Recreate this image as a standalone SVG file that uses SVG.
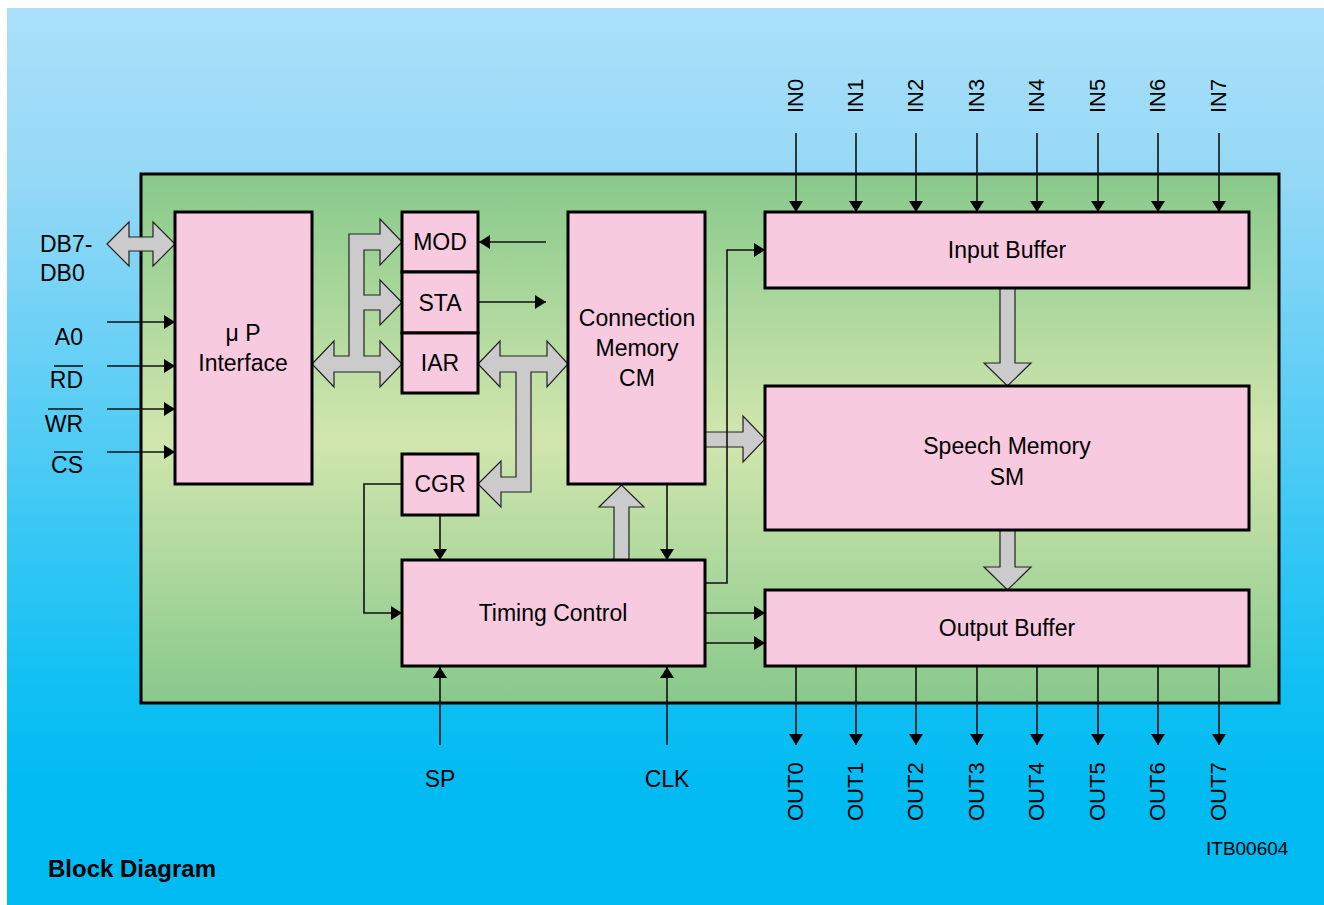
<svg xmlns="http://www.w3.org/2000/svg" width="1324" height="905" viewBox="0 0 1324 905">
<defs>
<linearGradient id="bg" x1="0" y1="0" x2="0" y2="1">
<stop offset="0" stop-color="#abe0fa"/>
<stop offset="0.2" stop-color="#93d8f6"/>
<stop offset="0.75" stop-color="#12c0f3"/>
<stop offset="0.88" stop-color="#00baf2"/>
<stop offset="1" stop-color="#00baf2"/>
</linearGradient>
<linearGradient id="gr" x1="0" y1="0" x2="0" y2="1">
<stop offset="0" stop-color="#88c98b"/>
<stop offset="0.5" stop-color="#d1e6ae"/>
<stop offset="1" stop-color="#88c98b"/>
</linearGradient>
<marker id="ah" viewBox="0 0 11 14" refX="11" refY="7" markerWidth="11" markerHeight="14" orient="auto" markerUnits="userSpaceOnUse">
<path d="M0,0 L11,7 L0,14 z" fill="#000"/>
</marker>
<style>
.box{fill:#f7cadf;stroke:#000;stroke-width:3}
.bus{fill:#cbcbcb;stroke:#222;stroke-width:1.2}
.ln{fill:none;stroke:#111;stroke-width:1.6}
.ar{fill:none;stroke:#111;stroke-width:1.6;marker-end:url(#ah)}
.t{font-family:"Liberation Sans",Arial,sans-serif;font-size:23px;fill:#000}
.c{text-anchor:middle}
.r{text-anchor:end}
.pin{font-family:"Liberation Sans",Arial,sans-serif;font-size:22px;fill:#000}
</style>
</defs>
<rect x="0" y="0" width="1324" height="905" fill="#fff"/>
<rect x="7" y="8" width="1317" height="897" fill="url(#bg)"/>
<rect x="141" y="174" width="1138" height="529" fill="url(#gr)" stroke="#000" stroke-width="3"/>

<g id="connectors">
<!-- DB bus -->
<path class="bus" d="M107,244 L129,222 L129,237 L153,237 L153,222 L175,244 L153,266 L153,251 L129,251 L129,266 z"/>
<!-- uP to MOD/STA/IAR bus -->
<path class="bus" d="M312,364 L334,341 L334,356 L349,356 L349,234 L380,234 L380,219 L402,242 L380,265 L380,250 L364,250 L364,295 L380,295 L380,280 L402,302.5 L380,325 L380,310 L364,310 L364,356 L380,356 L380,341 L402,364 L380,387 L380,372 L334,372 L334,387 z"/>
<!-- IAR to CM and CGR bus -->
<path class="bus" d="M478,364 L500,341 L500,356 L547,356 L547,341 L568,364 L547,387 L547,372 L531,372 L531,492 L501,492 L501,507 L478,484 L501,461 L501,477 L516,477 L516,372 L500,372 L500,387 z"/>
<!-- Timing to CM -->
<path class="bus" d="M614,560 L614,507 L599,507 L621.5,485 L644,507 L629,507 L629,560 z"/>
<!-- CM to Speech Memory -->
<path class="bus" d="M705,432 L743,432 L743,416 L765,439 L743,462 L743,447 L705,447 z"/>
<!-- Input Buffer to Speech Memory -->
<path class="bus" d="M1000,288 L1000,363 L984,363 L1007.5,386 L1031,363 L1015,363 L1015,288 z"/>
<!-- Speech Memory to Output Buffer -->
<path class="bus" d="M1000,530 L1000,567 L984,567 L1007.5,590 L1031,567 L1015,567 L1015,530 z"/>

<!-- uP inputs -->
<line class="ar" x1="107" y1="322" x2="175" y2="322"/>
<line class="ar" x1="107" y1="366" x2="175" y2="366"/>
<line class="ar" x1="107" y1="409" x2="175" y2="409"/>
<line class="ar" x1="107" y1="452" x2="175" y2="452"/>
<!-- MOD / STA -->
<line class="ar" x1="546" y1="242" x2="479" y2="242"/>
<line class="ar" x1="479" y1="302" x2="546" y2="302"/>
<!-- CGR -->
<line class="ar" x1="440" y1="516" x2="440" y2="560"/>
<polyline class="ar" points="402,484 364,484 364,613 402,613"/>
<!-- CM to timing -->
<line class="ar" x1="667" y1="485" x2="667" y2="560"/>
<!-- timing to input buffer -->
<polyline class="ar" points="705,583 727,583 727,250 765,250"/>
<!-- timing to output buffer -->
<line class="ar" x1="705" y1="613" x2="765" y2="613"/>
<line class="ar" x1="705" y1="643" x2="765" y2="643"/>
<!-- SP / CLK -->
<line class="ar" x1="440" y1="745" x2="440" y2="667"/>
<line class="ar" x1="667" y1="745" x2="667" y2="667"/>
<!-- IN lines -->
<line class="ar" x1="796" y1="133" x2="796" y2="212"/>
<line class="ar" x1="856" y1="133" x2="856" y2="212"/>
<line class="ar" x1="916" y1="133" x2="916" y2="212"/>
<line class="ar" x1="977" y1="133" x2="977" y2="212"/>
<line class="ar" x1="1037" y1="133" x2="1037" y2="212"/>
<line class="ar" x1="1098" y1="133" x2="1098" y2="212"/>
<line class="ar" x1="1158" y1="133" x2="1158" y2="212"/>
<line class="ar" x1="1219" y1="133" x2="1219" y2="212"/>
<!-- OUT lines -->
<line class="ar" x1="796" y1="666" x2="796" y2="745"/>
<line class="ar" x1="856" y1="666" x2="856" y2="745"/>
<line class="ar" x1="916" y1="666" x2="916" y2="745"/>
<line class="ar" x1="977" y1="666" x2="977" y2="745"/>
<line class="ar" x1="1037" y1="666" x2="1037" y2="745"/>
<line class="ar" x1="1098" y1="666" x2="1098" y2="745"/>
<line class="ar" x1="1158" y1="666" x2="1158" y2="745"/>
<line class="ar" x1="1219" y1="666" x2="1219" y2="745"/>
</g>

<g id="up-interface">
<rect class="box" x="175" y="212" width="137" height="272"/>
<text class="t c" x="243" y="341">μ P</text>
<text class="t c" x="243" y="371">Interface</text>
</g>
<g id="mod">
<rect class="box" x="402" y="212" width="76" height="60"/>
<text class="t c" x="440" y="250">MOD</text>
</g>
<g id="sta">
<rect class="box" x="402" y="272" width="76" height="61"/>
<text class="t c" x="440" y="311">STA</text>
</g>
<g id="iar">
<rect class="box" x="402" y="333" width="76" height="60"/>
<text class="t c" x="440" y="371">IAR</text>
</g>
<g id="cgr">
<rect class="box" x="402" y="454" width="76" height="61"/>
<text class="t c" x="440" y="492">CGR</text>
</g>
<g id="connection-memory">
<rect class="box" x="568" y="212" width="137" height="272"/>
<text class="t c" x="637" y="326">Connection</text>
<text class="t c" x="637" y="356">Memory</text>
<text class="t c" x="637" y="386">CM</text>
</g>
<g id="timing-control">
<rect class="box" x="402" y="560" width="303" height="106"/>
<text class="t c" x="553" y="621">Timing Control</text>
</g>
<g id="input-buffer">
<rect class="box" x="765" y="212" width="484" height="76"/>
<text class="t c" x="1007" y="258">Input Buffer</text>
</g>
<g id="speech-memory">
<rect class="box" x="765" y="386" width="484" height="144"/>
<text class="t c" x="1007" y="454">Speech Memory</text>
<text class="t c" x="1007" y="485">SM</text>
</g>
<g id="output-buffer">
<rect class="box" x="765" y="590" width="484" height="76"/>
<text class="t c" x="1007" y="636">Output Buffer</text>
</g>

<g id="left-pins">
<text class="t" x="40" y="252">DB7-</text>
<text class="t" x="40" y="281">DB0</text>
<text class="t r" x="83" y="345">A0</text>
<text class="t r" x="83" y="388">RD</text>
<text class="t r" x="83" y="432">WR</text>
<text class="t r" x="83" y="473">CS</text>
<line class="ln" x1="54" y1="366" x2="83" y2="366"/>
<line class="ln" x1="48" y1="409" x2="83" y2="409"/>
<line class="ln" x1="54" y1="452" x2="83" y2="452"/>
</g>

<g id="in-pins">
<text class="pin" transform="rotate(-90 803 113)" x="803" y="113">IN0</text>
<text class="pin" transform="rotate(-90 863 113)" x="863" y="113">IN1</text>
<text class="pin" transform="rotate(-90 923 113)" x="923" y="113">IN2</text>
<text class="pin" transform="rotate(-90 984 113)" x="984" y="113">IN3</text>
<text class="pin" transform="rotate(-90 1044 113)" x="1044" y="113">IN4</text>
<text class="pin" transform="rotate(-90 1105 113)" x="1105" y="113">IN5</text>
<text class="pin" transform="rotate(-90 1165 113)" x="1165" y="113">IN6</text>
<text class="pin" transform="rotate(-90 1226 113)" x="1226" y="113">IN7</text>
</g>

<g id="out-pins">
<text class="pin" transform="rotate(-90 803 821)" x="803" y="821">OUT0</text>
<text class="pin" transform="rotate(-90 863 821)" x="863" y="821">OUT1</text>
<text class="pin" transform="rotate(-90 923 821)" x="923" y="821">OUT2</text>
<text class="pin" transform="rotate(-90 984 821)" x="984" y="821">OUT3</text>
<text class="pin" transform="rotate(-90 1044 821)" x="1044" y="821">OUT4</text>
<text class="pin" transform="rotate(-90 1105 821)" x="1105" y="821">OUT5</text>
<text class="pin" transform="rotate(-90 1165 821)" x="1165" y="821">OUT6</text>
<text class="pin" transform="rotate(-90 1226 821)" x="1226" y="821">OUT7</text>
</g>

<g id="bottom-pins">
<text class="t c" x="440" y="787">SP</text>
<text class="t c" x="667" y="787">CLK</text>
</g>

<text x="1206" y="855" font-family="'Liberation Sans',Arial,sans-serif" font-size="19" fill="#000">ITB00604</text>
<text x="48" y="877" font-family="'Liberation Sans',Arial,sans-serif" font-size="24" font-weight="bold" fill="#000">Block Diagram</text>
</svg>
